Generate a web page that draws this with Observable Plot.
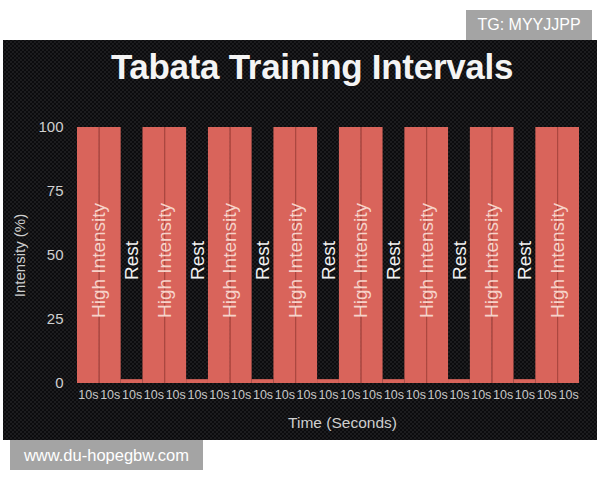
<!DOCTYPE html>
<html>
<head>
<meta charset="utf-8">
<script src="https://cdn.jsdelivr.net/npm/d3@7"></script>
<script src="https://cdn.jsdelivr.net/npm/@observablehq/plot@0.6"></script>
<style>
  html, body { margin: 0; padding: 0; background: #ffffff; width: 600px; height: 480px; overflow: hidden; font-family: "Liberation Sans", Arial, sans-serif; }
  #panel {
    position: absolute; left: 3px; top: 40px; width: 594px; height: 400px;
    background-color: #262628;
    background-image: radial-gradient(circle, #0c0c0e 1.1px, transparent 1.7px), radial-gradient(circle, #0c0c0e 1.1px, transparent 1.7px);
    background-size: 4px 4px; background-position: 0 0, 2px 2px;
  }
  #title { position: absolute; left: 0; top: 47px; width: 624px; text-align: center; color: #f4f4f4; font-weight: bold; font-size: 35px; letter-spacing: -0.3px; }
  #chart { position: absolute; left: 0; top: 100px; }
  #tg { position: absolute; left: 466px; top: 10px; width: 126px; height: 30px; background: #a4a4a4; color: #fff; font-size: 16px; line-height: 30px; text-align: center; }
  #wm { position: absolute; left: 10px; top: 440px; width: 193px; height: 30px; background: #a4a4a4; color: #fff; font-size: 16.5px; line-height: 30px; text-align: center; }
</style>
</head>
<body>
<div id="panel"></div>
<div id="title">Tabata Training Intervals</div>
<div id="chart"></div>
<div id="tg">TG: MYYJJPP</div>
<div id="wm">www.du-hopegbw.com</div>
<script>
// 23 consecutive 10-second intervals
const intervalLabels = ["10s","10s","10s","10s","10s","10s","10s","10s","10s","10s","10s","10s","10s","10s","10s","10s","10s","10s","10s","10s","10s","10s","10s"];
const intervalSeconds = [10,10,10,10,10,10,10,10,10,10,10,10,10,10,10,10,10,10,10,10,10,10,10];
const intervalIntensity = [100,100,1.5,100,100,1.5,100,100,1.5,100,100,1.5,100,100,1.5,100,100,1.5,100,100,1.5,100,100];
const intervalType = ["High","High","Rest","High","High","Rest","High","High","Rest","High","High","Rest","High","High","Rest","High","High","Rest","High","High","Rest","High","High"];
// phases (label groups)
const phaseNames = ["High Intensity","Rest","High Intensity","Rest","High Intensity","Rest","High Intensity","Rest","High Intensity","Rest","High Intensity","Rest","High Intensity","Rest","High Intensity"];
const phaseIntervals = [2,1,2,1,2,1,2,1,2,1,2,1,2,1,2];
const yTicks = [0, 25, 50, 75, 100];
const xTitle = "Time (Seconds)";
const yTitle = "Intensity (%)";

let t = 0;
const intervals = intervalSeconds.map((s, i) => {
  const d = {start: t, end: t + s, mid: t + s / 2, value: intervalIntensity[i], type: intervalType[i], label: intervalLabels[i]};
  t += s; return d;
});
const total = t;
let k = 0;
const phases = phaseNames.map((name, i) => {
  const first = intervals[k], last = intervals[k + phaseIntervals[i] - 1];
  k += phaseIntervals[i];
  return {name, start: first.start, end: last.end, mid: (first.start + last.end) / 2};
});
// dividers between two consecutive high-intensity intervals
const dividers = intervals.filter((d, i) => i > 0 && d.type === "High" && intervals[i - 1].type === "High")
  .map(d => ({x: d.start, value: d.value}));

const chart = Plot.plot({
  width: 600,
  height: 340,
  marginTop: 27,
  marginBottom: 57,
  marginLeft: 77,
  marginRight: 21,
  style: {background: "transparent", color: "#d0d0d0", fontFamily: "'Liberation Sans', Arial, sans-serif", overflow: "visible"},
  x: {domain: [0, total]},
  y: {domain: [0, 100]},
  marks: [
    Plot.rectY(intervals, {x1: "start", x2: "end", y: "value", fill: "#d9645b", inset: 0}),
    Plot.ruleX(dividers, {x: "x", y1: 0, y2: "value", stroke: "#a9443d", strokeWidth: 1}),
    Plot.text(phases, {x: "mid", frameAnchor: "middle", text: "name", rotate: -90, dy: 5,
      fill: d => d.name === "Rest" ? "#f2f2f2" : "#f6d3ca", fontSize: 19}),
    Plot.axisX(intervals.map(d => d.mid), {tickSize: 0, tickPadding: 7, fontSize: 12.5, fill: "#c8c8c8",
      tickFormat: (d, i) => intervalLabels[i], label: null}),
    Plot.axisY(yTicks, {tickSize: 0, tickPadding: 14, fontSize: 15, fill: "#d0d0d0", label: null}),
    Plot.text([xTitle], {frameAnchor: "bottom", textAnchor: "middle", dx: 14, dy: 44, text: d => d, fontSize: 15.5, fill: "#cfcfcf"}),
    Plot.text([yTitle], {frameAnchor: "left", textAnchor: "middle", dx: -57, dy: 0, rotate: -90, text: d => d, fontSize: 15, fill: "#cfcfcf"})
  ]
});
document.getElementById("chart").appendChild(chart);
</script>
</body>
</html>
